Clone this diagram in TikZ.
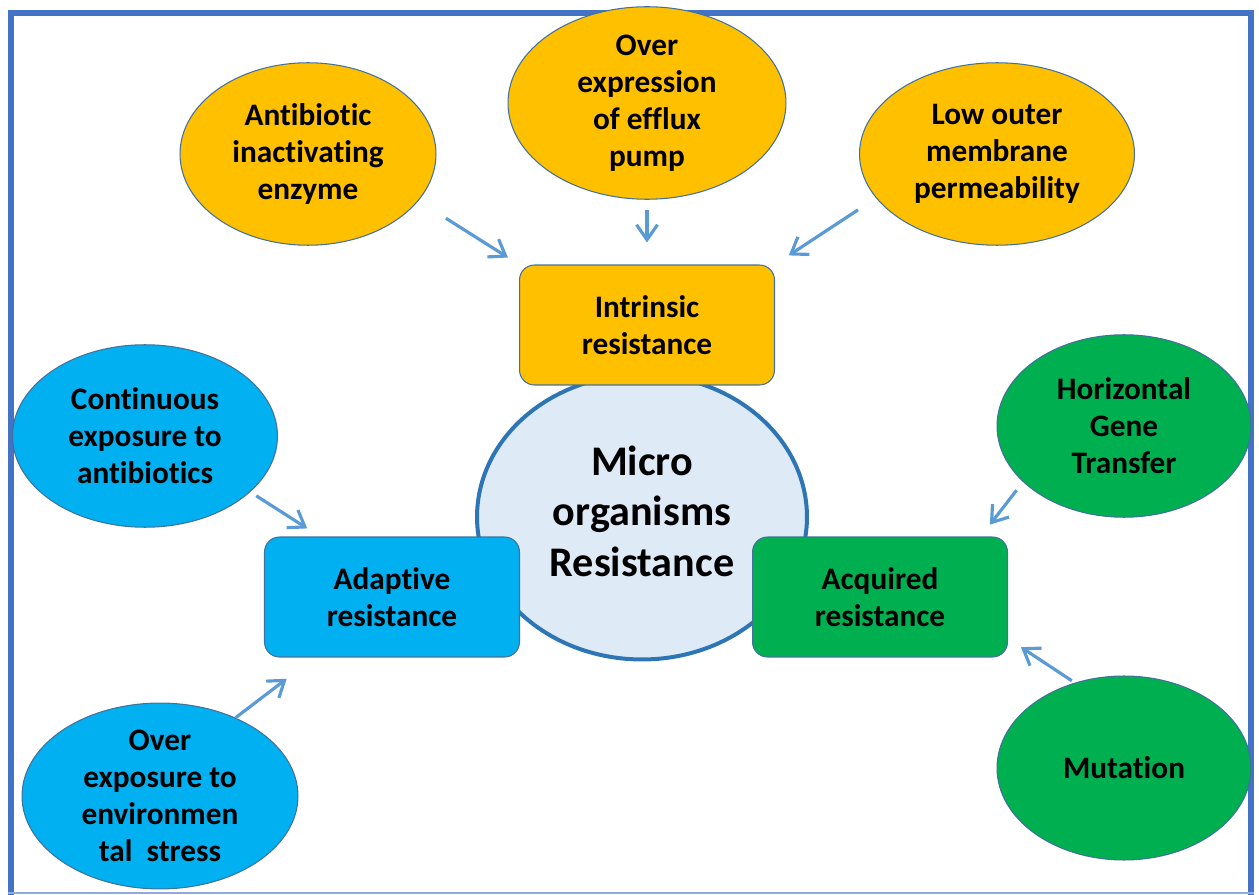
\documentclass[tikz,border=0pt]{standalone}
\usepackage{fontspec}
\setmainfont{Carlito}[Ligatures=CommonOff]
\usetikzlibrary{arrows.meta,shapes.geometric}

\definecolor{gold}{HTML}{FFC000}
\definecolor{sky}{HTML}{00B0F0}
\definecolor{leaf}{HTML}{00B050}
\definecolor{corefill}{HTML}{DEEBF7}
\definecolor{coreline}{HTML}{2E75B6}
\definecolor{framec}{HTML}{4472C4}
\definecolor{arrowc}{HTML}{5B9BD5}
\definecolor{edgec}{HTML}{41719C}

\begin{document}
\begin{tikzpicture}[->,>={Straight Barb[length=3mm,width=4.2mm,line width=1.8pt]},x=0.02cm,y=-0.02cm,
    cause/.style={shape=ellipse,draw=edgec,line width=0.6pt,inner sep=0pt,align=center,
        minimum width=5.3cm,minimum height=3.65cm,font=\fontsize{17.8}{21}\selectfont\bfseries},
    kind/.style={shape=rectangle,rounded corners=0.3cm,draw=edgec,line width=0.6pt,align=center,
        minimum width=5.1cm,minimum height=2.4cm,font=\fontsize{17.8}{21}\selectfont\bfseries},
    feed/.style={arrowc,line width=1.8pt}]
                \useasboundingbox(0, 0)rectangle(1259, 895);
                \draw[-,framec,line width=0.12cm](11, 895)--(11, 13)--(1251, 13)--(1251, 895);
                \draw[-,framec!60,line width=0.04cm](8, 893)--(1254, 893);
                \node[shape=ellipse,draw=coreline,fill=corefill,line width=0.08cm,inner sep=0pt,
                    minimum width=6.6cm,minimum height=5.7cm](core)at(642, 517){};
                \node[align=center,font=\fontsize{24}{28.8}\selectfont\bfseries](coretext)at(642, 511){Micro\\organisms\\Resistance};
                \node[kind,fill=gold](intr)at(647, 325){Intrinsic\\resistance};
                \node[kind,fill=sky](adap)at(392, 597){Adaptive\\resistance};
                \node[kind,fill=leaf](acq)at(880, 597){Acquired\\resistance};
                \node[cause,fill=gold,minimum width=5.12cm](ant)at(308, 154){Antibiotic\\inactivating\\enzyme};
                \node[cause,fill=gold,minimum width=5.56cm,minimum height=3.68cm](over)at(647, 103){Over\\expression\\of efflux\\pump};
                \node[cause,fill=gold,minimum width=5.5cm](low)at(997, 154){Low outer\\membrane\\permeability};
                \node[cause,fill=sky](cont)at(145, 436){Continuous\\exposure to\\antibiotics};
                \node[cause,fill=sky,minimum width=5.52cm,minimum height=3.68cm](env)at(160, 796){Over\\exposure to\\environmen\\tal~ stress};
                \node[cause,fill=leaf,minimum width=5.08cm](hgt)at(1124, 426){Horizontal\\Gene\\Transfer};
                \node[cause,fill=leaf,minimum width=5.08cm,minimum height=3.68cm](mut)at(1124, 768){Mutation};
                \path[feed](ant.-23.6) edge[shorten <=0.65cm,shorten >=0.26cm] (intr.north west)
                (over.south) edge[shorten <=0.2cm,shorten >=0.44cm] (intr.north)
                (low.200.3) edge[shorten <=0.43cm,shorten >=0.33cm] (intr.north east)
                (cont.-28.6) edge[shorten <=0.14cm,shorten >=0.3cm] (adap.140)
                (env.46.5) edge[shorten >=0.7cm] (adap.218)
                (hgt.209.9) edge[shorten <=0.21cm,shorten >=0.3cm] (acq.31.3)
                (mut.120) edge[shorten <=0.07cm,shorten >=0.31cm] (acq.-18.6);
            \end{tikzpicture}
\end{document}
